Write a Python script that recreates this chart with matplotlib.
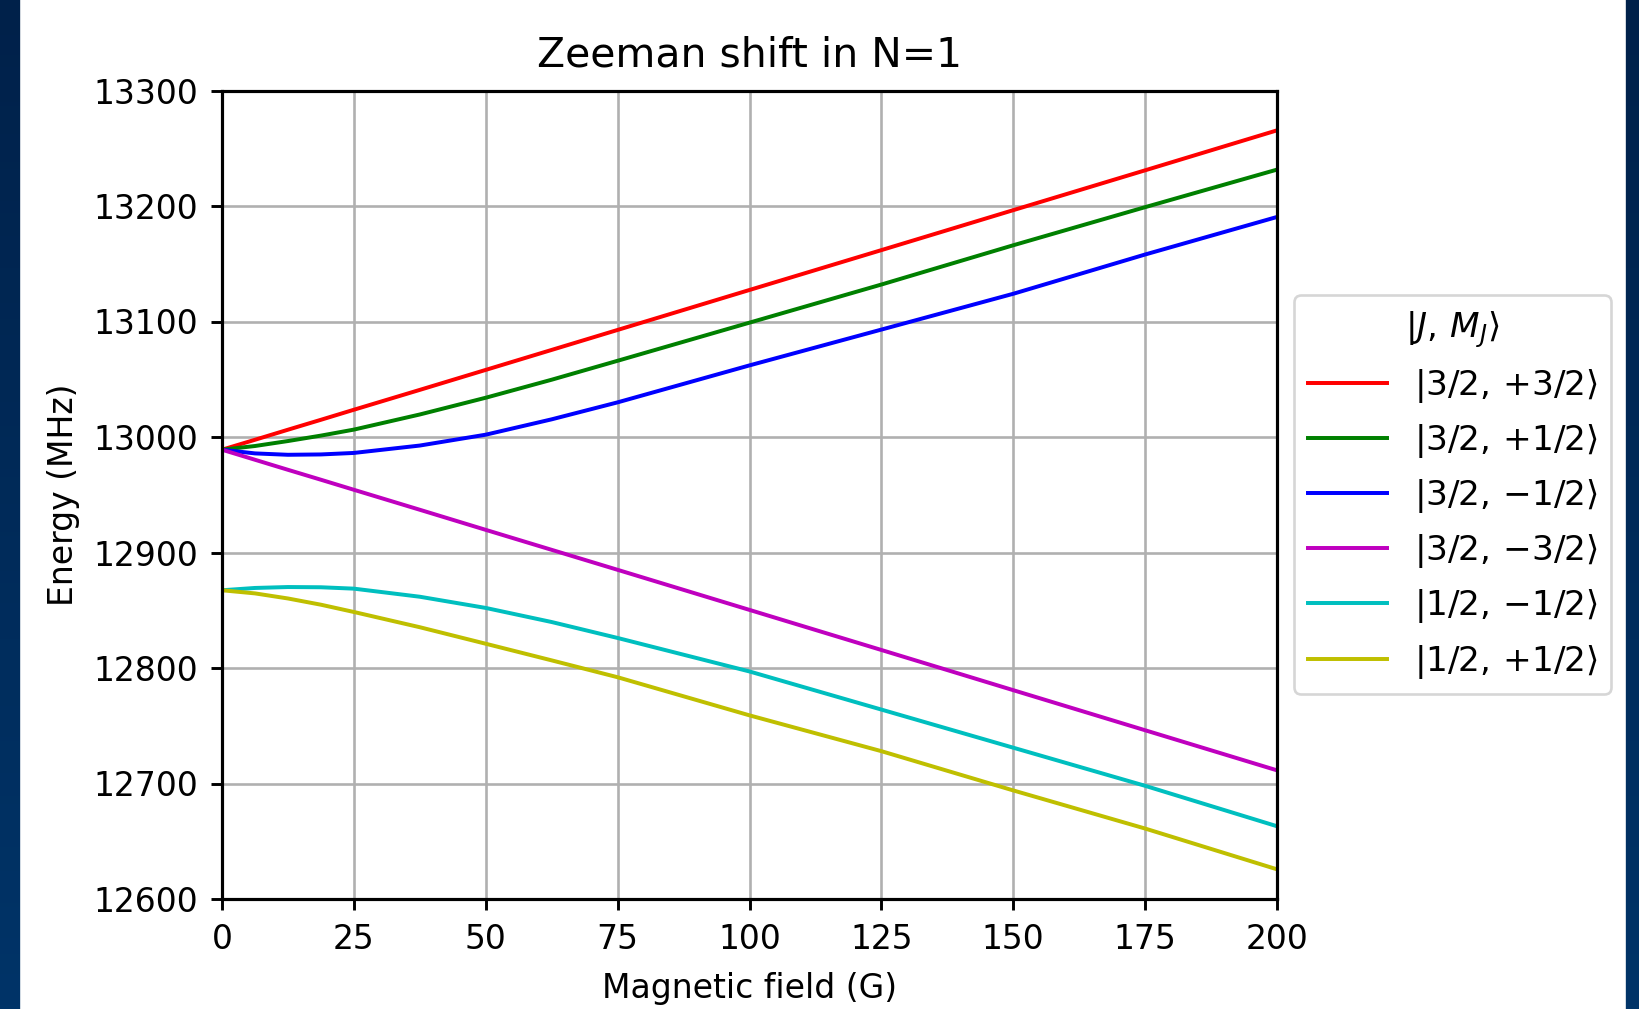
import numpy as np
import matplotlib
matplotlib.use('Agg')
import matplotlib.pyplot as plt
from matplotlib.colors import LinearSegmentedColormap

plt.rcParams['font.family'] = 'DejaVu Sans'
plt.rcParams['mathtext.fontset'] = 'dejavusans'

# magnetic field (G)
field = [0, 6.25, 12.5, 18.75, 25, 37.5, 50, 62.5, 75, 100, 125, 150, 175, 200]

# energies (MHz)
e_32_p32 = [12989, 12997.6, 13006.3, 13014.9, 13023.6, 13040.8, 13058.1, 13075.4, 13092.7, 13127.3, 13161.8, 13196.4, 13230.9, 13265.5]
e_32_p12 = [12989, 12992.2, 12996.5, 13001.2, 13006.4, 13019.5, 13034, 13049.6, 13066, 13099, 13132, 13166, 13199, 13231.5]
e_32_m12 = [12989, 12985.8, 12984.6, 12984.9, 12986.2, 12992.6, 13002, 13015.3, 13030, 13062, 13093, 13124, 13158, 13190.5]
e_32_m32 = [12989, 12980.3, 12971.6, 12963.0, 12954.3, 12937.0, 12919.6, 12902.3, 12885.0, 12850.3, 12815.6, 12780.8, 12746.1, 12711.4]
e_12_m12 = [12867.3, 12869.3, 12870.1, 12869.9, 12868.7, 12861.7, 12852, 12839.8, 12826, 12797, 12764, 12731, 12698, 12663]
e_12_p12 = [12867.3, 12864.6, 12860.2, 12854.8, 12848.5, 12835.3, 12821, 12806.6, 12792, 12759, 12728, 12694, 12661, 12625.7]

series = [
    (e_32_p32, r'$|3/2,\,{+}3/2\rangle$', 'r'),
    (e_32_p12, r'$|3/2,\,{+}1/2\rangle$', 'g'),
    (e_32_m12, r'$|3/2,\,{-}1/2\rangle$', 'b'),
    (e_32_m32, r'$|3/2,\,{-}3/2\rangle$', 'm'),
    (e_12_m12, r'$|1/2,\,{-}1/2\rangle$', 'c'),
    (e_12_p12, r'$|1/2,\,{+}1/2\rangle$', 'y'),
]

W, H = 1639, 1009
DPI = 190
fig = plt.figure(figsize=(W / DPI, H / DPI), dpi=DPI)

# slide-like background: blue gradient with a white panel
bg = fig.add_axes([0, 0, 1, 1], zorder=-5)
cmap = LinearSegmentedColormap.from_list('bg', ['#00214a', '#003468'])
grad = np.linspace(0, 1, 256).reshape(-1, 1)
bg.imshow(grad, extent=[0, 1, 0, 1], aspect='auto', cmap=cmap)
bg.axvspan(21 / W, 1624 / W, color='white')
bg.set_xlim(0, 1)
bg.set_ylim(0, 1)
bg.axis('off')

ax = fig.add_axes([222 / W, 1 - 899 / H, (1277 - 222) / W, (899 - 90.5) / H])
for e, lab, c in series:
    ax.plot(field, e, color=c, label=lab, linewidth=1.5)

ax.set_xlim(0, 200)
ax.set_ylim(12600, 13300)
ax.set_xticks(np.arange(0, 201, 25))
ax.set_yticks(np.arange(12600, 13301, 100))
ax.grid(True, color='#b0b0b0', linewidth=1.0)
ax.tick_params(labelsize=12.5, length=4, width=1.1, pad=5)
for s in ax.spines.values():
    s.set_linewidth(1.2)

ax.set_title('Zeeman shift in N=1', fontsize=15.5, pad=9)
ax.set_xlabel('Magnetic field (G)', fontsize=12.5, labelpad=6)
ax.set_ylabel('Energy (MHz)', fontsize=12.5, labelpad=5)

leg = ax.legend(title=r'$|J,\,M_J\rangle$', loc='center left', bbox_to_anchor=(1.0, 0.5),
                fontsize=13, title_fontsize=13, handlelength=2.3, framealpha=0.8)
leg.get_frame().set_linewidth(1.0)

fig.savefig('out.png', dpi=DPI)
